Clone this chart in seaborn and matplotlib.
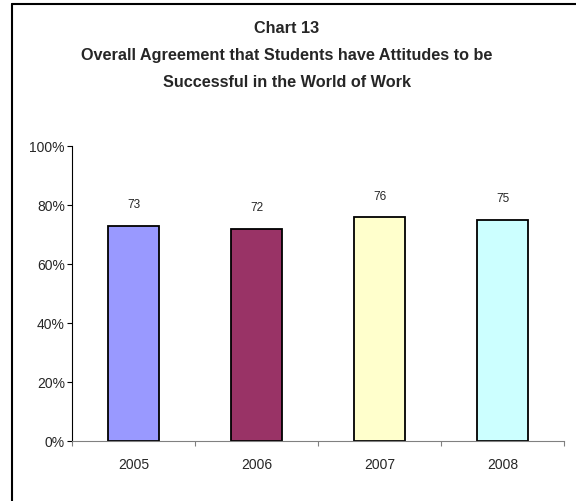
import matplotlib
matplotlib.use("Agg")
import matplotlib.pyplot as plt
import matplotlib.lines as mlines
import seaborn as sns
import pandas as pd

# data
years = ["2005", "2006", "2007", "2008"]
agreement = [73, 72, 76, 75]
bar_colors = ["#9999FF", "#993366", "#FFFFCC", "#CCFFFF"]
y_ticks = [0, 20, 40, 60, 80, 100]

df = pd.DataFrame({"year": years, "agreement": agreement})

sns.set_style("white")
plt.rcParams["font.family"] = ["Liberation Sans", "DejaVu Sans"]

fig = plt.figure(figsize=(5.76, 5.02), dpi=100)
ax = fig.add_axes([72 / 576, 60 / 502, (564 - 72) / 576, (442 - 147) / 502])

sns.barplot(data=df, x="year", y="agreement", hue="year",
            palette=bar_colors, legend=False, width=0.415, saturation=1,
            edgecolor="black", linewidth=1.3, ax=ax)

for cont in ax.containers:
    ax.bar_label(cont, fmt="%d", padding=11, fontsize=8.5)

ax.set_ylim(0, 100)
ax.set_xlim(-0.5, 3.5)
ax.set_yticks(y_ticks)
ax.set_yticklabels([f"{t}%" for t in y_ticks], fontsize=10)
ax.tick_params(axis="x", labelsize=10, length=0, pad=11.5)
ax.set_xticks([-0.5, 0.5, 1.5, 2.5, 3.5], minor=True)
ax.tick_params(axis="x", which="minor", length=3.6, width=0.8,
               color="#808080", direction="out", bottom=True)
ax.tick_params(axis="y", length=3.6, width=0.8, color="black",
               direction="out", left=True, pad=1.5)
ax.set_xlabel("")
ax.set_ylabel("")

for s in ["top", "right"]:
    ax.spines[s].set_visible(False)
ax.spines["left"].set_color("black")
ax.spines["left"].set_linewidth(0.8)
ax.spines["bottom"].set_color("#808080")
ax.spines["bottom"].set_linewidth(0.8)

fig.text(287 / 576, 1 - 55.5 / 502,
         "Chart 13\nOverall Agreement that Students have Attitudes to be\n"
         "Successful in the World of Work",
         ha="center", va="center", fontsize=11.7, fontweight="bold",
         linespacing=2.02)

# chart border (left and top edges)
fig.add_artist(mlines.Line2D([12 / 576, 12 / 576], [0, 1 - 5 / 502],
                             color="black", lw=1.5, transform=fig.transFigure))
fig.add_artist(mlines.Line2D([12 / 576, 1], [1 - 5 / 502, 1 - 5 / 502],
                             color="black", lw=1.5, transform=fig.transFigure))

fig.savefig("out.png", dpi=100)
